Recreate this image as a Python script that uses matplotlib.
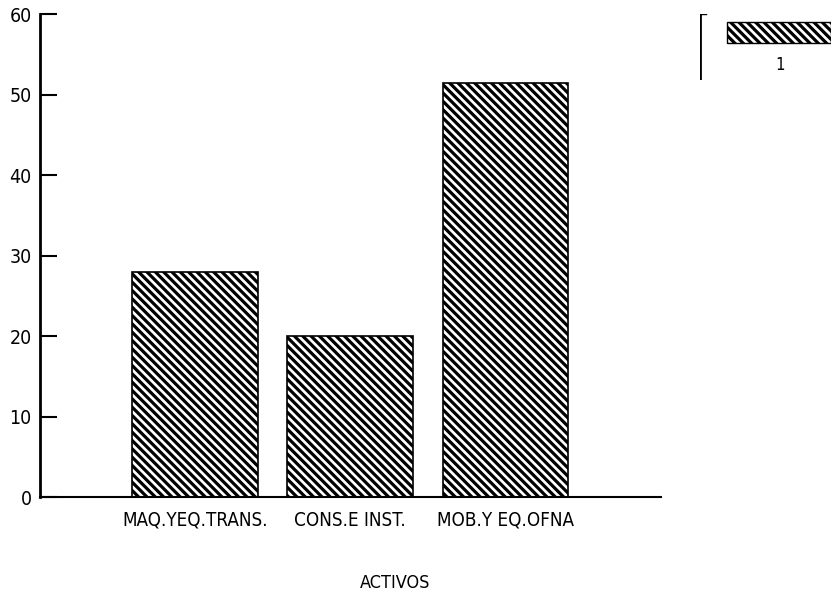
import matplotlib.pyplot as plt
from matplotlib.patches import Rectangle

# data
categories = ["MAQ.YEQ.TRANS.", "CONS.E INST.", "MOB.Y EQ.OFNA"]
values = [28, 20, 51.5]
legend_label = "1"
yticks = [0, 10, 20, 30, 40, 50, 60]

plt.rcParams['font.family'] = ['DejaVu Sans']
plt.rcParams['font.stretch'] = 'condensed'
plt.rcParams['hatch.linewidth'] = 2.3

fig = plt.figure(figsize=(8.31, 5.91), dpi=100)
ax = fig.add_axes([0.048, 0.159, 0.747, 0.817])

x = range(1, len(categories) + 1)
ax.bar(x, values, width=0.81, color='white', edgecolor='black',
       hatch='\\\\\\\\', linewidth=1.2)

ax.set_xlim(0, 4)
ax.set_ylim(0, 60)
ax.set_yticks(yticks)
ax.set_xticks(list(x))
ax.set_xticklabels(categories, fontsize=13.5)
ax.tick_params(axis='x', length=0, pad=10)
ax.tick_params(axis='y', direction='in', length=12, width=1.5, labelsize=14, pad=6)
for s in ['top', 'right']:
    ax.spines[s].set_visible(False)
ax.spines['left'].set_linewidth(2)
ax.spines['bottom'].set_linewidth(1.5)
ax.set_xlabel("ACTIVOS", fontsize=13)
ax.xaxis.set_label_coords(0.572, -0.16)

# legend box in the top right corner
lax = fig.add_axes([0.842, 0.865, 0.158, 0.112])
lax.set_xlim(0, 1)
lax.set_ylim(0, 1)
lax.axis('off')
lax.plot([0, 0], [0, 1], color='black', linewidth=2)
lax.plot([0, 0.05], [1, 1], color='black', linewidth=1)
lax.add_patch(Rectangle((0.21, 0.55), 0.79, 0.33, facecolor='white',
                        edgecolor='black', hatch='\\\\\\\\', linewidth=1))
lax.text(0.61, 0.22, legend_label, ha='center', va='center', fontsize=12)

fig.savefig("out.png", dpi=100)
